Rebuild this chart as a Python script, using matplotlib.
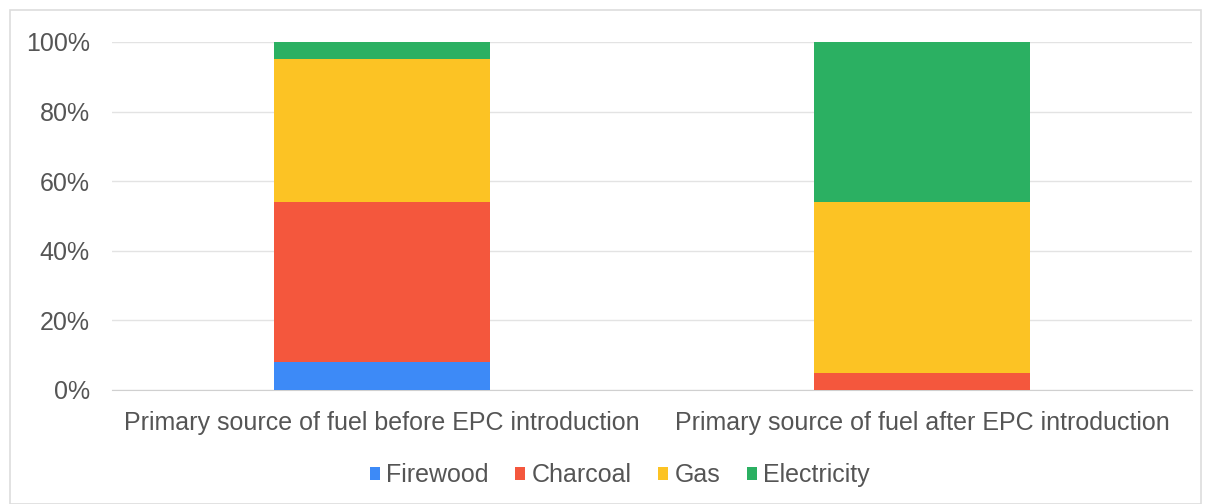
import matplotlib.pyplot as plt
from matplotlib.patches import Rectangle
from matplotlib.ticker import PercentFormatter

plt.rcParams['font.family'] = ['Liberation Sans', 'DejaVu Sans']

categories = ['Primary source of fuel before EPC introduction',
              'Primary source of fuel after EPC introduction']
fuels = ['Firewood', 'Charcoal', 'Gas', 'Electricity']
firewood = [8, 0]
charcoal = [46, 5]
gas = [41, 49]
electricity = [5, 46]
colors = ['#3d8af7', '#f4573d', '#fcc324', '#2bb062']

fig = plt.figure(figsize=(12.11, 5.04), dpi=100)
ax = fig.add_axes([0.0925, 0.2262, 0.892, 0.6905])

# light frame round the whole chart
fig.patches.append(Rectangle((0.008, 0.0), 0.984, 0.98, transform=fig.transFigure,
                             fill=False, edgecolor='#dddddd', linewidth=1.2))

x = range(len(categories))
bottom = [0, 0]
for name, vals, c in zip(fuels, [firewood, charcoal, gas, electricity], colors):
    ax.bar(x, vals, width=0.4, bottom=bottom, color=c, label=name, zorder=3)
    bottom = [b + v for b, v in zip(bottom, vals)]

ax.set_xlim(-0.5, 1.5)
ax.set_ylim(0, 100)
ax.set_yticks(range(0, 101, 20))
ax.yaxis.set_major_formatter(PercentFormatter(decimals=0))
ax.set_xticks(list(x))
ax.set_xticklabels(categories)
ax.grid(axis='y', color='#e3e3e3', linewidth=1, zorder=0)
for s in ax.spines.values():
    s.set_visible(False)
ax.spines['bottom'].set_visible(True)
ax.spines['bottom'].set_color('#d0d0d0')
ax.tick_params(length=0, labelsize=18, colors='#555555')
ax.tick_params(axis='y', pad=16)
ax.tick_params(axis='x', pad=15)

ax.legend(loc='upper center', bbox_to_anchor=(0.47, -0.146), ncol=4, frameon=False,
          fontsize=18, handlelength=0.4, handleheight=0.4, handletextpad=0.25,
          columnspacing=1.06, labelcolor='#555555')

fig.savefig('out.png', dpi=100)
